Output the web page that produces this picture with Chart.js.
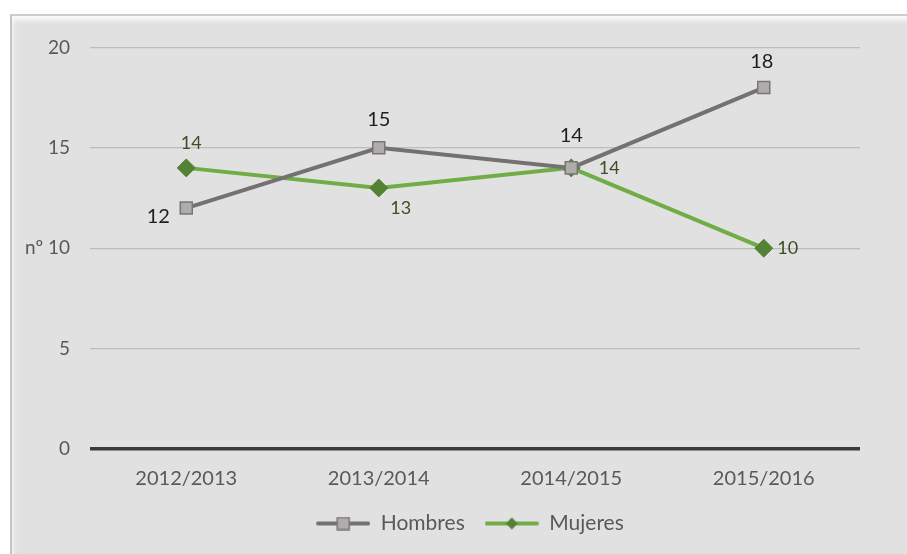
<!DOCTYPE html>
<html lang="es">
<head>
<meta charset="UTF-8">
<title>Hombres / Mujeres</title>
<script src="https://cdn.jsdelivr.net/npm/chart.js"></script>
<style>
    body { margin: 0; background: #fff; }
    .marco {
        position: absolute; left: 10px; top: 14px;
        width: 895px; height: 538px;
        background: #e1e1e1;
        border-left: 2px solid #c4c4c4;
        border-top: 2px solid #cdcdcd;
        box-shadow: inset 0 9px 5px -5px #fbfbfb, inset 6px 0 4px -4px #f4f4f4;
    }
    .marco canvas { position: absolute; left: 0; top: 0; }
</style>
</head>
<body>
<div class="marco">
    <canvas id="grafico" width="895" height="538"></canvas>
</div>
<script>
// datos
var cursos = ['2012/2013', '2013/2014', '2014/2015', '2015/2016'];
var hombres = [12, 15, 14, 18];
var mujeres = [14, 13, 14, 10];
var ticksY = [0, 5, 10, 15, 20];

// desplazamiento de las etiquetas respecto al punto (estilo)
var posHombres = [[-28, 9], [0, -28], [0, -32], [-2, -26]];
var posMujeres = [[5, -25], [22, 20], [38, 0], [24, 0]];

var fuente = 'Lato, "Open Sans", sans-serif';

// icono de leyenda: linea + marcador
function iconoLeyenda(color, relleno, borde, forma) {
    var c = document.createElement('canvas');
    c.width = 54; c.height = 14;
    var g = c.getContext('2d');
    g.strokeStyle = color; g.lineWidth = 4; g.lineCap = 'round';
    g.beginPath(); g.moveTo(2, 7); g.lineTo(52, 7); g.stroke();
    g.fillStyle = relleno; g.strokeStyle = borde; g.lineWidth = 1.5;
    if (forma == 'cuadrado') {
        g.fillRect(21, 1, 12, 12); g.strokeRect(21, 1, 12, 12);
    } else {
        g.beginPath(); g.moveTo(27, 1); g.lineTo(33, 7); g.lineTo(27, 13); g.lineTo(21, 7); g.closePath(); g.fill();
    }
    return c;
}

var etiquetas = {
    id: 'etiquetas',
    afterLayout: function (chart) {
        // la leyenda va algo a la derecha, como en el original
        chart.legend.left += 34;
        chart.legend.right += 34;
    },
    afterDatasetsDraw: function (chart) {
        var ctx = chart.ctx;
        ctx.save();
        ctx.textAlign = 'center';
        ctx.textBaseline = 'middle';
        chart.data.datasets.forEach(function (ds, i) {
            var meta = chart.getDatasetMeta(i);
            var pos = i == 0 ? posHombres : posMujeres;
            ctx.font = (i == 0 ? '20px ' : '18px ') + fuente;
            ctx.fillStyle = i == 0 ? '#1e1e1e' : '#3e4d26';
            meta.data.forEach(function (p, j) {
                ctx.fillText(ds.data[j], p.x + pos[j][0], p.y + pos[j][1]);
            });
        });
        ctx.restore();
    }
};

Chart.defaults.font.family = fuente;
Chart.defaults.color = '#595959';

new Chart(document.getElementById('grafico'), {
    type: 'line',
    data: {
        labels: cursos,
        datasets: [{
            label: 'Hombres',
            data: hombres,
            borderColor: '#767171',
            borderWidth: 4,
            pointStyle: 'rect',
            pointRadius: 8.5,
            pointBackgroundColor: '#afacac',
            pointBorderColor: '#7a7676',
            pointBorderWidth: 1.5,
            tension: 0
        }, {
            label: 'Mujeres',
            data: mujeres,
            borderColor: '#70ad47',
            borderWidth: 4,
            pointStyle: 'rectRot',
            pointRadius: 9,
            pointBackgroundColor: '#548235',
            pointBorderColor: '#548235',
            pointBorderWidth: 1,
            tension: 0
        }]
    },
    options: {
        responsive: false,
        animation: false,
        layout: { padding: { top: 29, right: 47, left: 0, bottom: 10 } },
        plugins: {
            tooltip: { enabled: false },
            legend: {
                position: 'bottom',
                labels: {
                    usePointStyle: true,
                    pointStyleWidth: 54,
                    font: { size: 21 },
                    color: '#595959',
                    padding: 20,
                    generateLabels: function (chart) {
                        return [
                            { text: 'Hombres', datasetIndex: 0, pointStyle: iconoLeyenda('#767171', '#afacac', '#7a7676', 'cuadrado'), fontColor: '#595959', lineWidth: 0, strokeStyle: 'transparent' },
                            { text: 'Mujeres', datasetIndex: 1, pointStyle: iconoLeyenda('#70ad47', '#548235', '#548235', 'rombo'), fontColor: '#595959', lineWidth: 0, strokeStyle: 'transparent' }
                        ];
                    }
                }
            }
        },
        scales: {
            x: {
                offset: true,
                grid: { display: false, drawTicks: false },
                border: { display: false },
                ticks: { font: { size: 20 }, padding: 18 },
                afterFit: function (s) { s.height = 44; }
            },
            y: {
                min: 0,
                max: 20,
                afterBuildTicks: function (s) {
                    s.ticks = ticksY.map(function (v) { return { value: v }; });
                },
                grid: {
                    drawTicks: false,
                    color: function (c) { return c.tick && c.tick.value == 0 ? '#3c3c3c' : '#bdbdbd'; },
                    lineWidth: function (c) { return c.tick && c.tick.value == 0 ? 3.5 : 1.2; }
                },
                border: { display: false },
                ticks: {
                    font: { size: 19 },
                    padding: 20,
                    callback: function (v) { return v == 10 ? 'nº 10' : v; }
                },
                afterFit: function (s) { s.width = 78; }
            }
        }
    },
    plugins: [etiquetas]
});
</script>
</body>
</html>
